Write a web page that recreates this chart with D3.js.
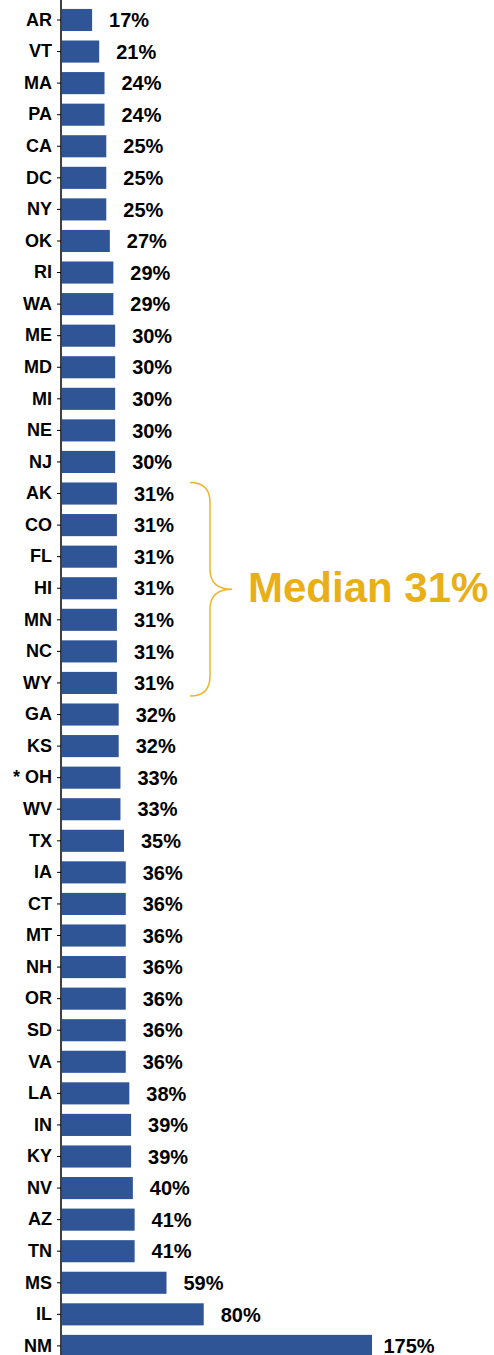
<!DOCTYPE html>
<html>
<head>
<meta charset="utf-8">
<script src="https://cdn.jsdelivr.net/npm/d3@7"></script>
<style>
  body { margin: 0; background: #fff; }
  svg { display: block; font-family: "Liberation Sans", Arial, sans-serif; }
</style>
</head>
<body>
<svg id="chart" width="494" height="1355"></svg>
<script>
// states, top to bottom
var states = ["AR", "VT", "MA", "PA", "CA", "DC", "NY", "OK", "RI", "WA", "ME", "MD", "MI", "NE", "NJ",
  "AK", "CO", "FL", "HI", "MN", "NC", "WY", "GA", "KS", "OH", "WV", "TX", "IA", "CT", "MT", "NH",
  "OR", "SD", "VA", "LA", "IN", "KY", "NV", "AZ", "TN", "MS", "IL", "NM"];
// percent values
var values = [17, 21, 24, 24, 25, 25, 25, 27, 29, 29, 30, 30, 30, 30, 30,
  31, 31, 31, 31, 31, 31, 31, 32, 32, 33, 33, 35, 36, 36, 36, 36,
  36, 36, 36, 38, 39, 39, 40, 41, 41, 59, 80, 175];
var starred = ["OH"];
var medianLabel = "Median 31%";
var medianFrom = "AK", medianTo = "WY";

var data = states.map(function (s, i) { return { state: s, value: values[i] }; });

var svg = d3.select("#chart");
var W = +svg.attr("width"), H = +svg.attr("height");

var x = d3.scaleLinear().domain([0, 175]).range([62, 372]);
var y = d3.scaleBand()
  .domain(states)
  .range([4.2, 1361.7])
  .paddingInner(0.3)
  .paddingOuter(0.15);

// bars
svg.selectAll(".bar")
  .data(data)
  .enter().append("rect")
  .attr("class", "bar")
  .attr("x", x(0))
  .attr("y", function (d) { return y(d.state); })
  .attr("width", function (d) { return x(d.value) - x(0); })
  .attr("height", y.bandwidth())
  .style("fill", "#2F5597");

// value labels
svg.selectAll(".val")
  .data(data)
  .enter().append("text")
  .attr("class", "val")
  .attr("x", function (d) { return x(d.value) + 37; })
  .attr("y", function (d) { return y(d.state) + y.bandwidth() / 2; })
  .attr("dy", "0.36em")
  .attr("text-anchor", "middle")
  .style("font-size", "20px")
  .style("font-weight", "bold")
  .style("fill", "#000")
  .text(function (d) { return d.value + "%"; });

// y axis
var axis = svg.append("g")
  .attr("transform", "translate(61,0)")
  .call(d3.axisLeft(y).tickSize(4).tickSizeOuter(0).tickPadding(5)
    .tickFormat(function (s) { return starred.indexOf(s) >= 0 ? "* " + s : s; }));
axis.select(".domain").remove();
axis.selectAll(".tick line").attr("stroke", "#000");
axis.selectAll(".tick text")
  .style("font-size", "18px")
  .style("font-weight", "bold")
  .style("font-family", "'Liberation Sans', Arial, sans-serif")
  .attr("fill", "#000");
svg.append("line")
  .attr("x1", 61).attr("x2", 61)
  .attr("y1", 0).attr("y2", H)
  .attr("stroke", "#000")
  .attr("stroke-width", 1.5);

// median brace
var braceTop = y(medianFrom), braceBot = y(medianTo) + y.bandwidth() + 2;
var braceMid = (braceTop + braceBot) / 2;
var bx0 = 190, bx1 = 210, bx2 = 232, r = 20;
var brace = d3.path();
brace.moveTo(bx0, braceTop);
brace.quadraticCurveTo(bx1, braceTop, bx1, braceTop + r);
brace.lineTo(bx1, braceMid - r);
brace.quadraticCurveTo(bx1, braceMid, bx2, braceMid);
brace.quadraticCurveTo(bx1, braceMid, bx1, braceMid + r);
brace.lineTo(bx1, braceBot - r);
brace.quadraticCurveTo(bx1, braceBot, bx0, braceBot);
svg.append("path")
  .attr("d", brace.toString())
  .attr("fill", "none")
  .attr("stroke", "#EDB52B")
  .attr("stroke-width", 1.5);

svg.append("text")
  .attr("x", 248)
  .attr("y", braceMid + 13)
  .style("font-size", "42px")
  .style("font-weight", "bold")
  .style("fill", "#E8AF16")
  .text(medianLabel);
</script>
</body>
</html>
